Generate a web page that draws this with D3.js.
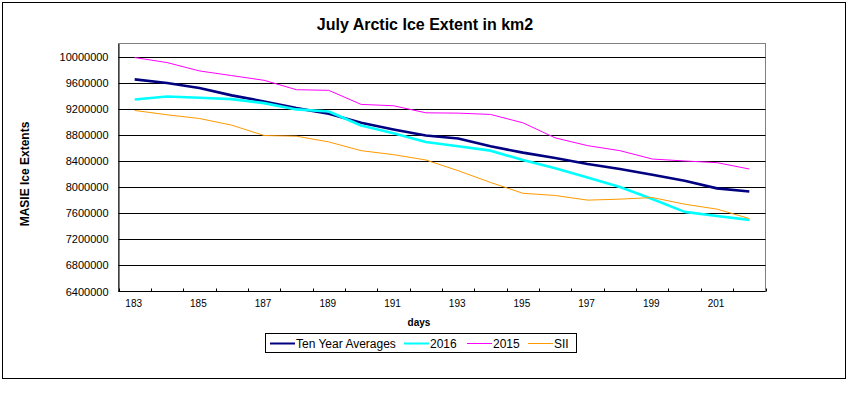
<!DOCTYPE html>
<html>
<head>
<meta charset="utf-8">
<script src="https://cdn.jsdelivr.net/npm/d3@7/dist/d3.min.js"></script>
<style>
  body { margin: 0; background: #fff; }
  svg { display: block; font-family: Arial, "Liberation Sans", sans-serif; }
</style>
</head>
<body>
<svg id="chart" width="850" height="394"></svg>
<script>
const days = [183,184,185,186,187,188,189,190,191,192,193,194,195,196,197,198,199,200,201,202];
const tenYearAverages = [9650000,9594000,9517000,9405000,9312000,9210000,9123000,8985000,8882000,8790000,8745000,8625000,8528000,8446000,8354000,8277000,8190000,8097000,7980000,7932000];
const y2016 = [9343000,9389000,9369000,9348000,9286000,9190000,9158000,8943000,8825000,8692000,8625000,8558000,8415000,8287000,8148000,8000000,7816000,7620000,7558000,7497000];
const y2015 = [9985000,9908000,9780000,9708000,9636000,9492000,9482000,9267000,9246000,9138000,9133000,9113000,8985000,8754000,8635000,8558000,8430000,8400000,8374000,8277000];
const sii = [9174000,9108000,9051000,8949000,8790000,8780000,8692000,8558000,8497000,8415000,8251000,8071000,7905000,7871000,7800000,7815000,7840000,7738000,7662000,7518000];
const yTicks = [6400000,6800000,7200000,7600000,8000000,8400000,8800000,9200000,9600000,10000000];
const xTickLabels = [183,185,187,189,191,193,195,197,199,201];
const seriesNames = ["Ten Year Averages","2016","2015","SII"];
const seriesColors = ["#000080","#00FFFF","#FF00FF","#FF9900"];
const seriesWidths = [2.6,2.6,1,1];
const legendWidths = [2,2,1,1];

const series = [tenYearAverages, y2016, y2015, sii];

const svg = d3.select("#chart");
const L = 118.5, R = 765.5, T = 43.5, B = 291.5;

// outer border
svg.append("rect").attr("x",2.5).attr("y",2.5).attr("width",843).attr("height",376)
  .attr("fill","#fff").attr("stroke","#000").attr("stroke-width",1);

const x = d3.scaleBand().domain(days).range([L, R]).padding(0);
const y = d3.scaleLinear().domain([6400000, 10200000]).range([B, T]);

// plot border (gray)
svg.append("rect").attr("x",L).attr("y",T).attr("width",R-L).attr("height",B-T)
  .attr("fill","none").attr("stroke","#808080").attr("stroke-width",1);

// gridlines
svg.append("g").selectAll("line").data(yTicks.filter(v => v > 6400000)).join("line")
  .attr("x1",L).attr("x2",R)
  .attr("y1",d => Math.round(y(d))+0.5).attr("y2",d => Math.round(y(d))+0.5)
  .attr("stroke","#000").attr("stroke-width",1);

// y axis
const yAxis = d3.axisLeft(y).tickValues(yTicks).tickSize(0).tickPadding(10).tickFormat(d3.format("d"));
const gy = svg.append("g").attr("transform",`translate(${L},0)`).call(yAxis);
gy.select(".domain").attr("stroke","#000");
gy.selectAll("text").attr("font-size","11px").attr("fill","#000")
  .attr("font-family","Arial, 'Liberation Sans', sans-serif");

// x axis
const gx = svg.append("g").attr("transform",`translate(0,${B})`);
gx.append("line").attr("x1",L).attr("x2",R).attr("y1",0).attr("y2",0).attr("stroke","#000");
const tickPos = days.map(d => x(d)).concat([R]);
gx.selectAll("line.tk").data(tickPos).join("line").attr("class","tk")
  .attr("x1",d => Math.round(d)+0.5).attr("x2",d => Math.round(d)+0.5)
  .attr("y1",-3).attr("y2",0).attr("stroke","#000");
gx.selectAll("text").data(xTickLabels).join("text")
  .attr("x",d => x(d) + x.bandwidth()/2 - 1)
  .attr("y",15)
  .attr("text-anchor","middle").attr("font-size","10px").attr("fill","#000")
  .text(d => d);

// lines
const line = d3.line().x((d,i) => x(days[i]) + x.bandwidth()/2).y(d => y(d));
series.forEach((s, k) => {
  svg.append("path").datum(s).attr("d", line)
    .attr("fill","none").attr("stroke",seriesColors[k]).attr("stroke-width",seriesWidths[k])
    .attr("stroke-linejoin","round");
});

// title
svg.append("text").attr("x",425).attr("y",30).attr("text-anchor","middle")
  .attr("font-size","16px").attr("font-weight","bold").text("July Arctic Ice Extent in km2");

// y axis title
svg.append("text").attr("transform","translate(29,174) rotate(-90)").attr("text-anchor","middle")
  .attr("font-size","12px").attr("font-weight","bold").text("MASIE Ice Extents");

// x axis title
svg.append("text").attr("x",419).attr("y",326).attr("text-anchor","middle")
  .attr("font-size","10px").attr("font-weight","bold").text("days");

// legend
const lg = svg.append("g");
lg.append("rect").attr("x",265.5).attr("y",333.5).attr("width",311).attr("height",19)
  .attr("fill","#fff").attr("stroke","#000");
const legendX = [270, 404, 467, 528];
seriesNames.forEach((n, k) => {
  lg.append("line").attr("x1",legendX[k]).attr("x2",legendX[k]+25)
    .attr("y1",343.5).attr("y2",343.5)
    .attr("stroke",seriesColors[k]).attr("stroke-width", legendWidths[k]);
  lg.append("text").attr("x",legendX[k]+26).attr("y",348)
    .attr("font-size","12px").text(n);
});
</script>
</body>
</html>
